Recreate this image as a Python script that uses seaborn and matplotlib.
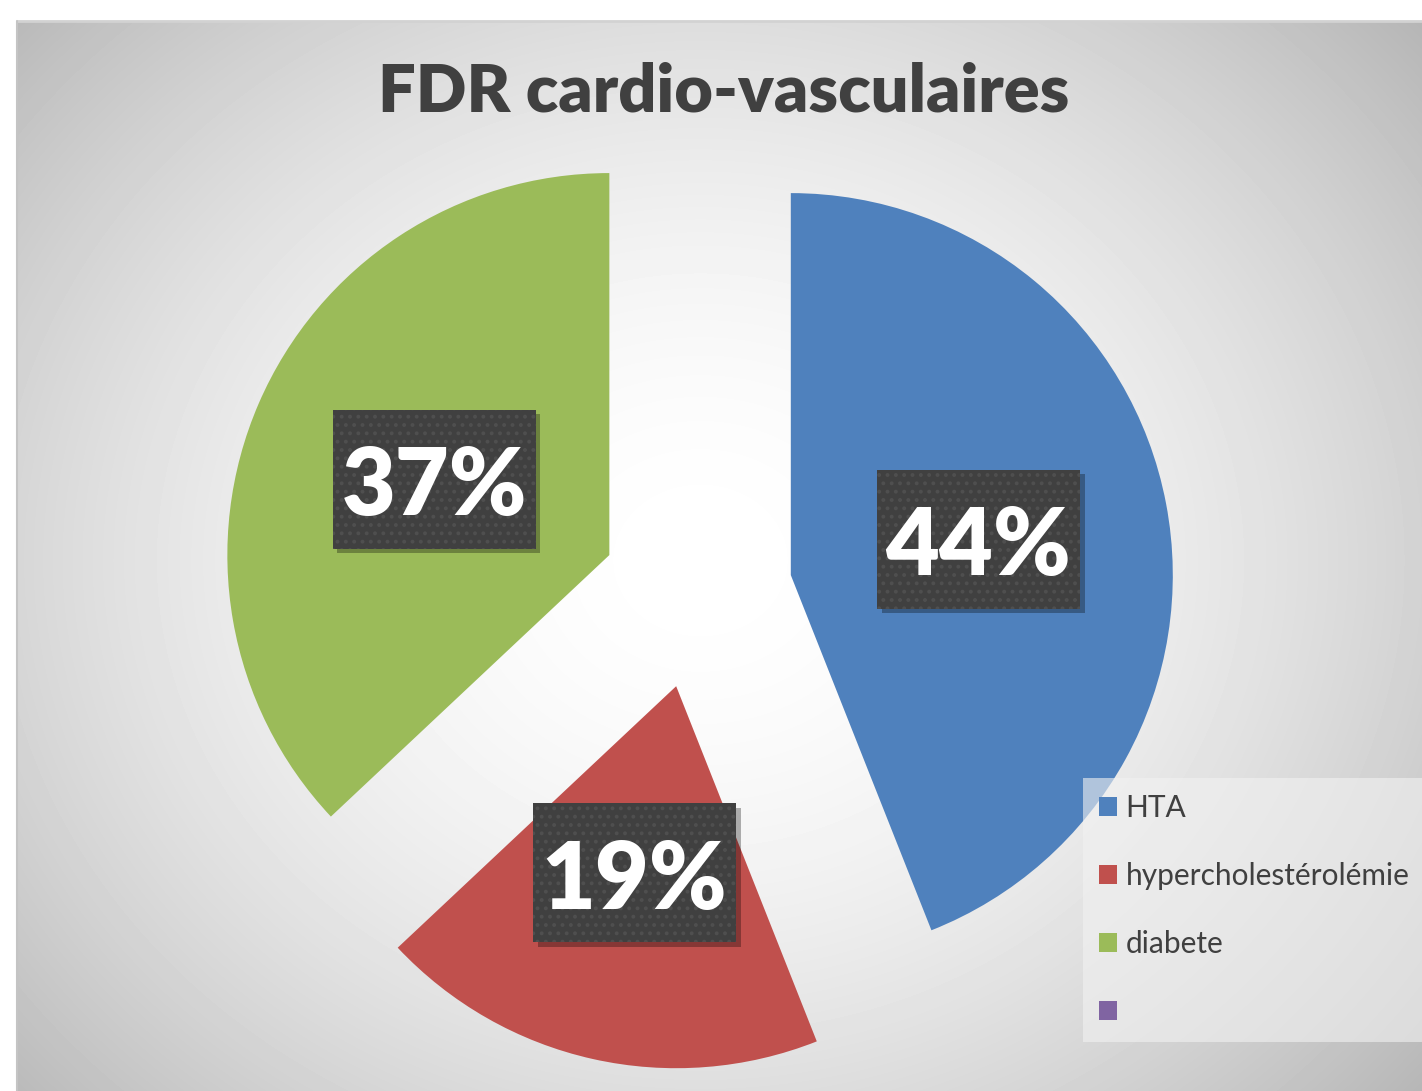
import numpy as np
import seaborn as sns
import matplotlib.pyplot as plt
from matplotlib.patches import Rectangle, Patch

# Data
categories = ["HTA", "hypercholestérolémie", "diabete"]
shares = [44, 19, 37]
legend_labels = ["HTA", "hypercholestérolémie", "diabete", " "]

sns.set_theme(style="white")
plt.rcParams["font.family"] = ["Lato", "DejaVu Sans"]
plt.rcParams["hatch.linewidth"] = 1.6

colors = ["#4F81BD", "#C0504D", "#9BBB59", "#8064A2"]

W, H = 1422, 1091
fig = plt.figure(figsize=(W / 100, H / 100), dpi=100)
fig.patch.set_facecolor("white")

# gradient background of the chart area
bg = fig.add_axes([17 / W, 0, 1 - 17 / W, 1 - 21 / H])
ny, nx = 1070, 1405
yy, xx = np.mgrid[0:ny, 0:nx]
cx, cy = 700 - 17, 560 - 21
d = np.sqrt((xx - cx) ** 2 + ((yy - cy) * 1.15) ** 2)
v = 255 - 64 * np.clip(d / 880, 0, 1.1) ** 1.8
bg.imshow(v, cmap="gray", vmin=0, vmax=255, aspect="auto", interpolation="bilinear")
bg.set_axis_off()
fig.add_artist(plt.Line2D([17 / W, 1], [1 - 21 / H, 1 - 21 / H], color="#d2d2d2", lw=2))
fig.add_artist(plt.Line2D([17 / W, 17 / W], [0, 1 - 21 / H], color="#c4c4c4", lw=1.5))

# pie axes: 1 data unit = 382 px, center at pixel (697, 593)
ax = fig.add_axes([0, 0, 1, 1])
ax.patch.set_alpha(0)
r = 382

wedges, texts, autotexts = ax.pie(
    shares,
    colors=colors[:3],
    startangle=90,
    counterclock=False,
    explode=[0.25, 0.25, 0.25],
    autopct=lambda p: f"{p:.0f}%",
    pctdistance=0.5,
    textprops=dict(color="white", fontsize=67, fontweight="heavy"),
    wedgeprops=dict(linewidth=0),
    frame=True,
)
ax.set_xlim(-697 / r, (W - 697) / r)
ax.set_ylim(-(H - 593) / r, 593 / r)
ax.set_aspect("auto")
ax.set_axis_off()

bw, bh = 203 / r, 139 / r
for t in autotexts:
    x, y = t.get_position()
    ax.add_patch(Rectangle((x - bw / 2 + 0.012, y - bh / 2 - 0.012), bw, bh,
                           facecolor="black", alpha=0.3, linewidth=0, zorder=3))
    ax.add_patch(Rectangle((x - bw / 2, y - bh / 2), bw, bh,
                           facecolor="#404040", linewidth=0, zorder=4))
    ax.add_patch(Rectangle((x - bw / 2, y - bh / 2), bw, bh, fill=False,
                           edgecolor="#4f4f4f", hatch="..", linewidth=0, zorder=4.5))
    t.set_position((x, y - 0.024))
    t.set_zorder(5)

fig.text(724 / W, 1 - 92 / H, "FDR cardio-vasculaires", ha="center", va="center",
         fontsize=48, fontweight="heavy", color="#404040")

handles = [Patch(facecolor=c, edgecolor="none") for c in colors]
leg = fig.legend(
    handles, legend_labels,
    loc="upper left",
    bbox_to_anchor=(1083 / W, 1 - 778 / H),
    bbox_transform=fig.transFigure,
    borderaxespad=0,
    fontsize=21.5,
    frameon=True,
    fancybox=False,
    handlelength=0.6,
    handleheight=0.6,
    handletextpad=0.27,
    labelspacing=1.33,
    borderpad=0.55,
    labelcolor="#404040",
)
fr = leg.get_frame()
fr.set_facecolor("#f2f2f2")
fr.set_alpha(0.6)
fr.set_edgecolor("none")

plt.savefig("out.png", dpi=100)
